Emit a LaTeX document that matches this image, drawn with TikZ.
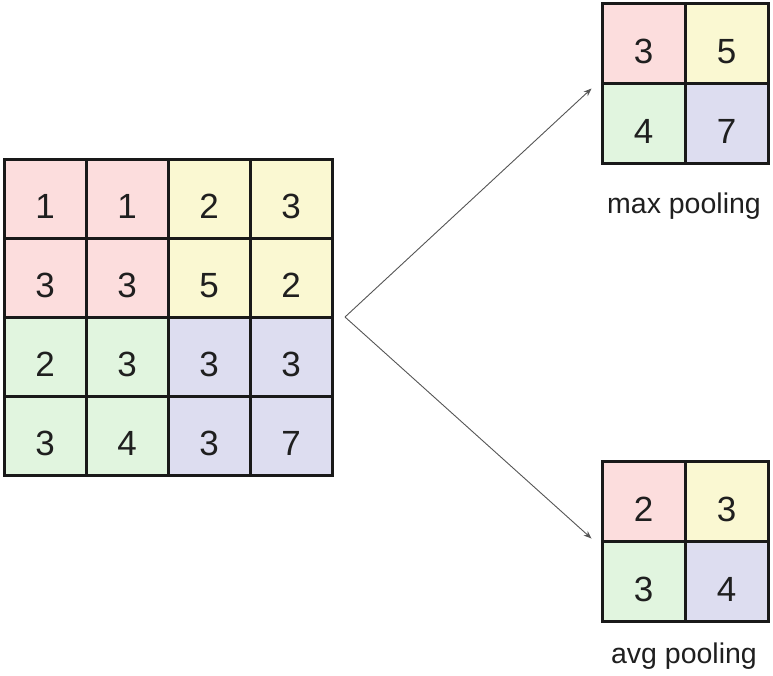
\documentclass[tikz,border=0pt]{standalone}
\usepackage{fontspec}
\setmainfont{Liberation Sans}
\usetikzlibrary{arrows.meta,calc}
\definecolor{cellred}{RGB}{252,221,221}
\definecolor{cellyellow}{RGB}{250,248,210}
\definecolor{cellgreen}{RGB}{225,245,223}
\definecolor{cellblue}{RGB}{221,221,240}
\definecolor{linkgray}{RGB}{85,85,85}
\begin{document}
\begin{tikzpicture}[x=1pt,y=-1pt,
  % digits sit a little below the middle of each cell
  cell/.style={draw=black!90, line width=3pt, inner sep=0pt,
    text height=40pt, text depth=0pt,
    font=\fontsize{35}{35}\selectfont, text=black!88},
  bigcell/.style={cell, minimum width=82pt, minimum height=79pt},
  smallcell/.style={cell, minimum width=83pt, minimum height=80pt},
  caption/.style={font=\fontsize{28.5}{28.5}\selectfont, text=black!88},
  link/.style={draw=linkgray, line width=0.9pt, -{Stealth[length=8pt,width=6pt]}}]
\useasboundingbox (0,0) rectangle (773,675);
\fill[white] (0,0) rectangle (773,675);

% input feature map, 4x4
\foreach \r/\y in {1/198.5, 2/277.5, 3/356.5, 4/435.5}{
  \foreach \c/\x in {1/45, 2/127, 3/209, 4/291}{
    \pgfmathtruncatemacro{\blk}{(\r>2)*2+(\c>2)}
    \ifcase\blk \def\fc{cellred}\or \def\fc{cellyellow}\or \def\fc{cellgreen}\else \def\fc{cellblue}\fi
    \pgfmathtruncatemacro{\val}{{{1,1,2,3},{3,3,5,2},{2,3,3,3},{3,4,3,7}}[\r-1][\c-1]}
    \node[bigcell, fill=\fc] (m\r\c) at (\x,\y) {\val};
  }
}

% max pooling result
\node[smallcell, fill=cellred]    (p11) at (643.5,43) {3};
\node[smallcell, fill=cellyellow] (p12) at (726.5,43) {5};
\node[smallcell, fill=cellgreen]  (p21) at (643.5,123) {4};
\node[smallcell, fill=cellblue]   (p22) at (726.5,123) {7};
\node[caption] (maxlabel) at (684,206) {max pooling};

% average pooling result
\node[smallcell, fill=cellred]    (a11) at (643.5,501) {2};
\node[smallcell, fill=cellyellow] (a12) at (726.5,501) {3};
\node[smallcell, fill=cellgreen]  (a21) at (643.5,581) {3};
\node[smallcell, fill=cellblue]   (a22) at (726.5,581) {4};
\node[caption] (avglabel) at (684,656) {avg pooling};

% connectors
\coordinate (split) at (345,317);
\coordinate (maxin) at ($(p11.south west)+(-9,4)$);
\coordinate (avgin) at ($(a21.north west)+(-9,-1)$);
\draw[link] (split) -- (maxin);
\draw[link] (split) -- (avgin);
\end{tikzpicture}
\end{document}
